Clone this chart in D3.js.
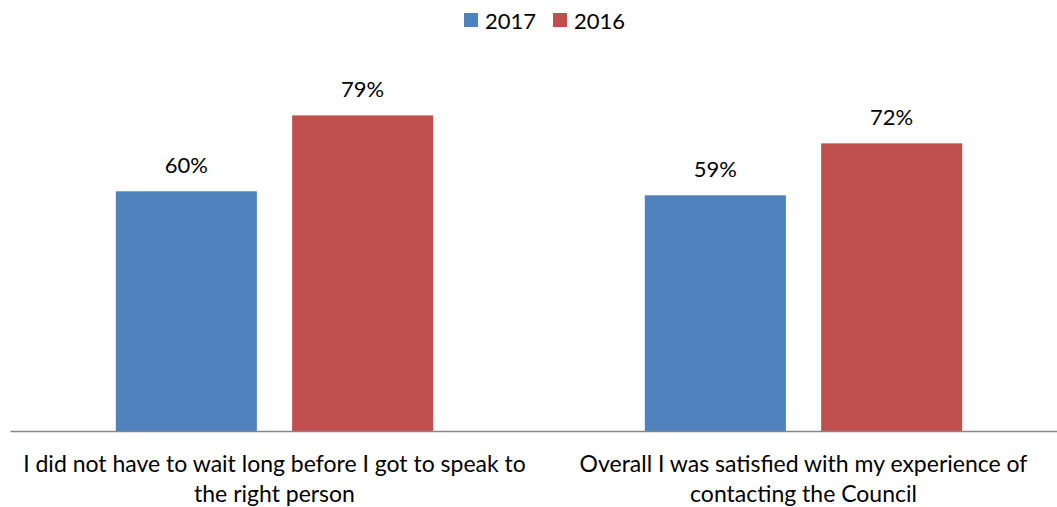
<!DOCTYPE html>
<html>
<head>
<meta charset="utf-8">
<script src="https://cdn.jsdelivr.net/npm/d3@7"></script>
<style>
  html, body { margin: 0; padding: 0; background: #fff; }
  svg { display: block; }
  text { font-family: Lato, "Open Sans", sans-serif; fill: #000; }
</style>
</head>
<body>
<svg id="chart" width="1057" height="507"></svg>
<script>
// Survey statements (each split into two display lines)
const categories = [
  ["I did not have to wait long before I got to speak to", "the right person"],
  ["Overall I was satisfied with my experience of", "contacting the Council"]
];
const seriesNames = ["2017", "2016"];
const values2017 = [60, 59];
const values2016 = [79, 72];
const colors = ["#4F81BD", "#C0504D"];

const svg = d3.select("#chart");
const fontSize = 22;
const catFontSize = 23;

// Plot area
const plot = { left: 10, right: 1068, top: 31.5, bottom: 431 };

const x0 = d3.scaleBand()
  .domain(d3.range(categories.length))
  .range([plot.left, plot.right])
  .paddingInner(0).paddingOuter(0);

const x1 = d3.scaleBand()
  .domain(seriesNames)
  .range([0, x0.bandwidth()])
  .paddingInner(0.2).paddingOuter(0.6);

const y = d3.scaleLinear().domain([0, 100]).range([plot.bottom, plot.top]);

const series = [values2017, values2016];
const rows = categories.map((c, i) => ({
  i,
  bars: seriesNames.map((s, k) => ({ s, k, v: series[k][i] }))
}));

const g = svg.append("g");
const groups = g.selectAll("g.grp").data(rows).join("g")
  .attr("class", "grp")
  .attr("transform", d => `translate(${x0(d.i)},0)`);

groups.selectAll("rect").data(d => d.bars).join("rect")
  .attr("x", d => x1(d.s))
  .attr("width", x1.bandwidth())
  .attr("y", d => y(d.v))
  .attr("height", d => y(0) - y(d.v))
  .attr("fill", d => colors[d.k]);

groups.selectAll("text.val").data(d => d.bars).join("text")
  .attr("class", "val")
  .attr("x", d => x1(d.s) + x1.bandwidth() / 2)
  .attr("y", d => y(d.v) - 18)
  .attr("text-anchor", "middle")
  .style("font-size", fontSize + "px")
  .text(d => d.v + "%");

// Category axis
const xAxis = d3.axisBottom(x0).tickSize(0).tickFormat("");
const axisG = svg.append("g")
  .attr("transform", `translate(0,${plot.bottom})`)
  .call(xAxis);
axisG.select(".domain").attr("stroke", "#868686").attr("stroke-width", 1.5);

// Category labels (two lines each)
const labels = svg.append("g").selectAll("text.cat").data(categories).join("text")
  .attr("class", "cat")
  .attr("text-anchor", "middle")
  .style("font-size", catFontSize + "px");
labels.selectAll("tspan").data((d, i) => d.map(line => ({ line, i }))).join("tspan")
  .attr("x", d => x0(d.i) + x0.bandwidth() / 2)
  .attr("y", (d, j) => 472 + j * 30)
  .text(d => d.line);

// Legend
const legendItems = [
  { name: seriesNames[0], color: colors[0], x: 464 },
  { name: seriesNames[1], color: colors[1], x: 553 }
];
const lg = svg.append("g").selectAll("g").data(legendItems).join("g")
  .attr("transform", d => `translate(${d.x},13)`);
lg.append("rect").attr("width", 14).attr("height", 14).attr("fill", d => d.color);
lg.append("text").attr("x", 21).attr("y", 15.5)
  .style("font-size", fontSize + "px")
  .text(d => d.name);
</script>
</body>
</html>
